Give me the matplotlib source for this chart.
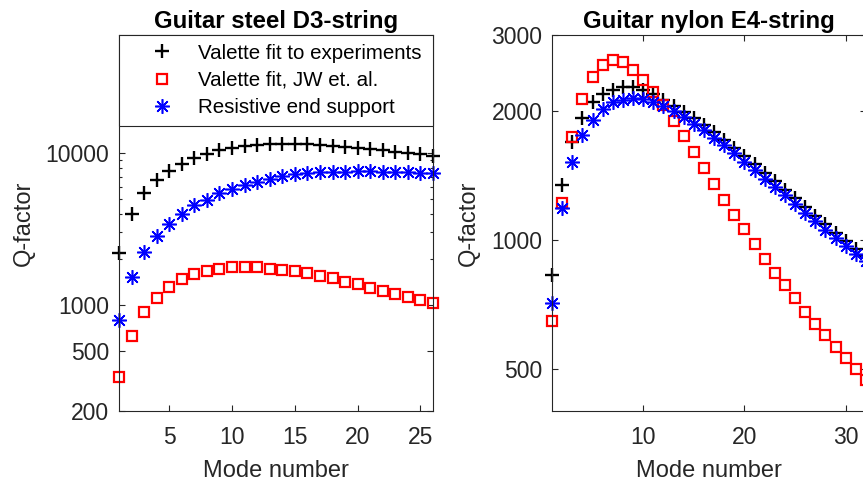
import matplotlib
matplotlib.use('Agg')
import matplotlib.pyplot as plt
from matplotlib.ticker import FixedLocator, NullLocator, NullFormatter, FixedFormatter

# legend labels used on both panels
seriesLabels = ['Valette fit to experiments', 'Valette fit, JW et. al.', 'Resistive end support']

# guitar steel D3-string, modes 1..26
steelModes = list(range(1, 27))
steelExp = [2200, 4000, 5450, 6650, 7600, 8500, 9350, 9900, 10500, 10750, 11100, 11250, 11450,
            11500, 11500, 11450, 11300, 11200, 11000, 10850, 10650, 10450, 10200, 10050, 9850, 9600]
steelJW = [337, 627, 893, 1115, 1317, 1474, 1589, 1671, 1730, 1770, 1775, 1770, 1723,
           1694, 1671, 1616, 1557, 1496, 1421, 1373, 1299, 1240, 1181, 1122, 1080, 1025]
steelRes = [800, 1530, 2220, 2830, 3420, 3950, 4530, 4910, 5420, 5800, 6150, 6420, 6780,
            7050, 7250, 7400, 7480, 7530, 7560, 7570, 7570, 7560, 7530, 7490, 7440, 7380]
steelYTicks = [200, 500, 1000, 10000]
steelXTicks = [5, 10, 15, 20, 25]

# guitar nylon E4-string, modes 1..32
nylonModes = list(range(1, 33))
nylonExp = [830, 1340, 1690, 1920, 2100, 2190, 2240, 2270, 2270, 2240, 2190, 2120, 2055, 1990,
            1920, 1855, 1785, 1710, 1640, 1570, 1500, 1435, 1370, 1310, 1250, 1195, 1140, 1090,
            1040, 995, 955, 920]
nylonJW = [648, 1220, 1740, 2130, 2390, 2560, 2620, 2595, 2490, 2360, 2215, 2060, 1895, 1745,
           1600, 1470, 1347, 1242, 1145, 1058, 980, 902, 839, 784, 733, 681, 639, 601, 563,
           531, 501, 473]
nylonRes = [712, 1187, 1520, 1757, 1900, 2020, 2090, 2120, 2135, 2130, 2100, 2050, 1995, 1935,
            1865, 1800, 1730, 1660, 1590, 1520, 1455, 1390, 1330, 1270, 1210, 1155, 1105, 1055,
            1010, 967, 930, 895]
nylonYTicks = [500, 1000, 2000, 3000]
nylonXTicks = [10, 20, 30]

plt.rcParams['font.family'] = ['Liberation Sans', 'DejaVu Sans']
axisGray = '0.15'


def asterisk():
    # matlab style '*' marker: 8 spokes
    return (8, 2, 0)


def drawPanel(ax, modes, expVals, jwVals, resVals):
    '''
    plot the three series with matlab-like markers
    '''
    h1, = ax.plot(modes, expVals, linestyle='none', marker='+', color='k',
                  markersize=10, markeredgewidth=1.7, clip_on=False)
    h2, = ax.plot(modes, jwVals, linestyle='none', marker='s', color='r',
                  markerfacecolor='none', markersize=6.5, markeredgewidth=1.6, clip_on=False)
    h3, = ax.plot(modes, resVals, linestyle='none', marker=asterisk(), color='b',
                  markersize=10.5, markeredgewidth=1.15, clip_on=False)
    return [h1, h2, h3]


def styleAxes(ax):
    ax.set_yscale('log')
    for spine in ax.spines.values():
        spine.set_color(axisGray)
        spine.set_linewidth(0.8)
    ax.tick_params(which='both', direction='in', top=True, right=True,
                   colors=axisGray, labelcolor=axisGray, labelsize=16.5, width=0.8)
    ax.tick_params(which='major', length=4)
    ax.tick_params(which='minor', length=2.5)
    ax.tick_params(axis='x', which='both', pad=11)
    ax.tick_params(axis='y', which='both', pad=7)


def main():
    fig = plt.figure(figsize=(8.63, 4.82), dpi=100)
    ax1 = fig.add_axes([119 / 863, 71 / 482, 314 / 863, 376 / 482])
    ax2 = fig.add_axes([552 / 863, 71 / 482, 314 / 863, 376 / 482])

    # left panel: steel string
    handles = drawPanel(ax1, steelModes, steelExp, steelJW, steelRes)
    styleAxes(ax1)
    ax1.set_xlim(1, 26)
    ax1.set_ylim(200, 60000)
    ax1.set_xticks(steelXTicks)
    ax1.yaxis.set_major_locator(FixedLocator(steelYTicks))
    ax1.yaxis.set_major_formatter(FixedFormatter([str(v) for v in steelYTicks]))
    ax1.yaxis.set_minor_locator(FixedLocator([2000, 3000, 4000, 5000, 6000, 7000, 8000, 9000,
                                              20000, 30000, 40000, 50000]))
    ax1.yaxis.set_minor_formatter(NullFormatter())
    ax1.set_title('Guitar steel D3-string', fontsize=17.3, fontweight='bold', pad=5)
    ax1.set_xlabel('Mode number', fontsize=17, color=axisGray, labelpad=8)
    ax1.set_ylabel('Q-factor', fontsize=17, color=axisGray, labelpad=8)

    leg = ax1.legend(handles, seriesLabels, loc='upper left', bbox_to_anchor=(0, 1, 1, 0),
                     mode='expand', borderaxespad=0, fontsize=14.8, fancybox=False,
                     edgecolor=axisGray, framealpha=1, borderpad=0.42, handlelength=3.3,
                     handletextpad=0.12, labelspacing=0.4)
    leg.get_frame().set_linewidth(0.8)

    # right panel: nylon string
    drawPanel(ax2, nylonModes, nylonExp, nylonJW, nylonRes)
    styleAxes(ax2)
    ax2.set_xlim(1, 32)
    ax2.set_ylim(400, 3000)
    ax2.set_xticks(nylonXTicks)
    ax2.yaxis.set_major_locator(FixedLocator(nylonYTicks))
    ax2.yaxis.set_major_formatter(FixedFormatter([str(v) for v in nylonYTicks]))
    ax2.yaxis.set_minor_locator(NullLocator())
    ax2.set_title('Guitar nylon E4-string', fontsize=17.3, fontweight='bold', pad=5)
    ax2.set_xlabel('Mode number', fontsize=17, color=axisGray, labelpad=8)
    ax2.set_ylabel('Q-factor', fontsize=17, color=axisGray, labelpad=8)

    fig.savefig('out.png', dpi=100)


if __name__ == '__main__':
    main()
